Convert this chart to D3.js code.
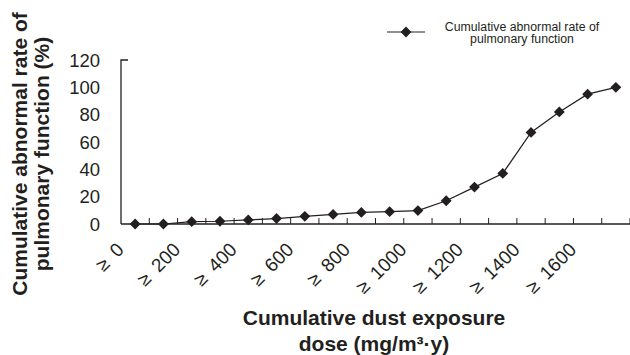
<!DOCTYPE html>
<html>
<head>
<meta charset="utf-8">
<script src="https://cdn.jsdelivr.net/npm/d3@7"></script>
<style>
  body { margin: 0; background: #fff; }
  svg { display: block; font-family: "Liberation Sans", Arial, sans-serif; }
</style>
</head>
<body>
<svg id="chart" width="630" height="355"></svg>
<script>
// dose groups (mg/m3·y), every other one is labelled on the axis
var categories = ["≥ 0", "≥ 100", "≥ 200", "≥ 300", "≥ 400", "≥ 500", "≥ 600", "≥ 700", "≥ 800",
  "≥ 900", "≥ 1000", "≥ 1100", "≥ 1200", "≥ 1300", "≥ 1400", "≥ 1500", "≥ 1600", "≥ 1700"];
// cumulative abnormal rate of pulmonary function (%)
var rates = [0, 0, 1.7, 2, 3, 4, 5.6, 7, 8.5, 9, 9.8, 17, 27, 37, 67, 82, 95, 100];
var yTicks = [0, 20, 40, 60, 80, 100, 120];
var seriesName = ["Cumulative abnormal rate of", "pulmonary function"];

(function () {
  var ink = "#231f20";
  var svg = d3.select("#chart");
  var mLeft = 121, mRight = 630, mTop = 60, mBottom = 224;

  var x = d3.scaleBand().domain(d3.range(categories.length)).range([mLeft, mRight]);
  var y = d3.scaleLinear().domain([0, 120]).range([mBottom, mTop]);

  // y axis: line with a single tick at the top, labels set off to the left
  svg.append("path")
    .attr("d", "M" + (mLeft + 7) + "," + y(120) + "H" + mLeft + "V" + mBottom)
    .attr("fill", "none").attr("stroke", ink).attr("stroke-width", 1.3);
  svg.append("g").selectAll("text").data(yTicks).join("text")
    .attr("x", 100).attr("y", function (d) { return y(d); })
    .attr("dy", "0.36em").attr("text-anchor", "end")
    .attr("font-size", 18.5).attr("fill", ink)
    .text(function (d) { return d; });

  // x axis with ticks on the category boundaries
  svg.append("line").attr("x1", mLeft).attr("x2", mRight).attr("y1", mBottom).attr("y2", mBottom)
    .attr("stroke", ink).attr("stroke-width", 1.3);
  svg.append("g").selectAll("line").data(d3.range(1, categories.length + 1)).join("line")
    .attr("x1", function (i) { return mLeft + i * x.step(); })
    .attr("x2", function (i) { return mLeft + i * x.step(); })
    .attr("y1", mBottom).attr("y2", mBottom - 6)
    .attr("stroke", ink).attr("stroke-width", 1);
  svg.append("g").selectAll("text")
    .data(categories.map(function (c, i) { return { c: c, i: i }; }).filter(function (d) { return d.i % 2 === 0; }))
    .join("text")
    .attr("transform", function (d) {
      return "translate(" + (x(d.i) + x.bandwidth() / 2 - 15) + "," + 246 + ") rotate(-45)";
    })
    .attr("dy", "0.36em").attr("text-anchor", "end")
    .attr("font-size", 19).attr("fill", ink)
    .text(function (d) { return d.c.replace(" ", "\u2002"); });

  // series
  var cx = function (d, i) { return x(i) + x.bandwidth() / 2; };
  svg.append("path").datum(rates)
    .attr("d", d3.line().x(cx).y(function (d) { return y(d); }))
    .attr("fill", "none").attr("stroke", ink).attr("stroke-width", 1.2);
  var diamond = d3.symbol().type(d3.symbolDiamond2).size(75);
  svg.append("g").selectAll("path").data(rates).join("path")
    .attr("transform", function (d, i) { return "translate(" + cx(d, i) + "," + y(d) + ")"; })
    .attr("d", diamond).attr("fill", ink);

  // legend
  svg.append("line").attr("x1", 387).attr("x2", 425).attr("y1", 32).attr("y2", 32)
    .attr("stroke", ink).attr("stroke-width", 1.2);
  svg.append("path").attr("transform", "translate(406,32)").attr("d", diamond).attr("fill", ink);
  svg.append("text").attr("x", 522).attr("y", 31).attr("text-anchor", "middle")
    .attr("font-size", 12.3).attr("fill", ink)
    .selectAll("tspan").data(seriesName).join("tspan")
    .attr("x", 522).attr("dy", function (d, i) { return i ? 11.5 : 0; })
    .text(function (d) { return d; });

  // axis titles
  svg.append("text").attr("x", 374).attr("font-size", 21).attr("font-weight", "bold")
    .attr("text-anchor", "middle").attr("fill", ink)
    .selectAll("tspan").data(["Cumulative dust exposure", "dose (mg/m³·y)"]).join("tspan")
    .attr("x", 374).attr("y", function (d, i) { return 325 + i * 26; })
    .text(function (d) { return d; });
  svg.append("text").attr("transform", "translate(0,154) rotate(-90)")
    .attr("font-size", 21).attr("font-weight", "bold")
    .attr("text-anchor", "middle").attr("fill", ink)
    .selectAll("tspan").data(["Cumulative abnormal rate of", "pulmonary function (%)"]).join("tspan")
    .attr("x", 0).attr("y", function (d, i) { return 27 + i * 22; })
    .text(function (d) { return d; });
})();
</script>
</body>
</html>
